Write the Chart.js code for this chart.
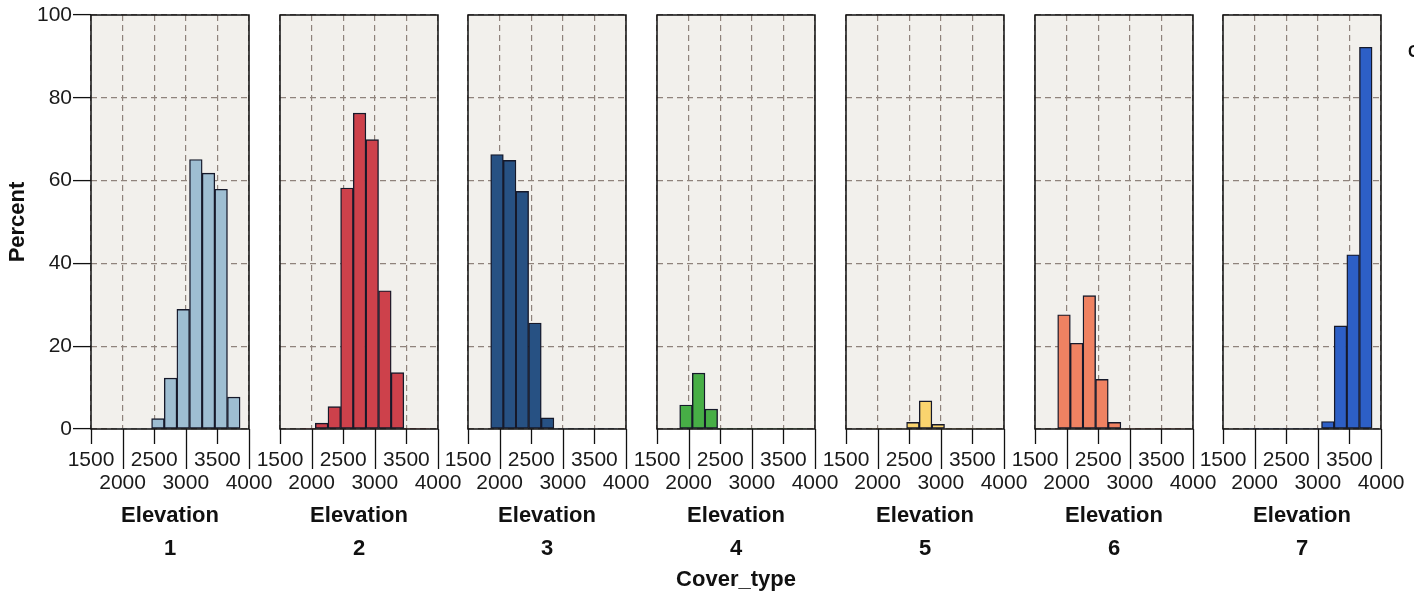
<!DOCTYPE html>
<html>
<head>
<meta charset="utf-8">
<script src="https://cdn.jsdelivr.net/npm/chart.js@4.4.0/dist/chart.umd.min.js"></script>
<style>
html, body { margin: 0; padding: 0; background: #fff; width: 1424px; height: 601px; overflow: hidden; }
.panel { position: absolute; top: 0; height: 601px; }
#coverTitle { position: absolute; left: 536px; width: 400px; top: 566px; line-height: 26px; text-align: center;
  font: bold 22px Arial, "Liberation Sans", sans-serif; color: #111; }
#legendCut { position: absolute; left: 1408px; top: 43px; width: 6px; overflow: hidden; line-height: 20px; white-space: nowrap;
  font: bold 16px Arial, "Liberation Sans", sans-serif; color: #111; }
</style>
</head>
<body>
<div id="panels"></div>
<div id="coverTitle">Cover_type</div>
<div id="legendCut">Cover_type</div>
<script>
// elevation bins (width 200, starting at 1859) -> bar centres
const binCenters = [1959, 2159, 2359, 2559, 2759, 2959, 3159, 3359, 3559, 3759];
const xTickValues = [1500, 2000, 2500, 3000, 3500, 4000];
const yTickValues = [0, 20, 40, 60, 80, 100];
const coverTypes = ['1', '2', '3', '4', '5', '6', '7'];

// percent per bin, one array per cover type
const type1 = [0, 0, 0, 2.5, 12.3, 28.9, 65.1, 61.8, 57.9, 7.7];
const type2 = [0, 1.4, 5.4, 58.2, 76.3, 69.9, 33.4, 13.6, 0, 0];
const type3 = [66.3, 64.9, 57.4, 25.6, 2.7, 0, 0, 0, 0, 0];
const type4 = [5.8, 13.5, 4.8, 0, 0, 0, 0, 0, 0, 0];
const type5 = [0, 0, 0, 1.6, 6.8, 1.1, 0, 0, 0, 0];
const type6 = [27.6, 20.7, 32.2, 12.0, 1.6, 0, 0, 0, 0, 0];
const type7 = [0, 0, 0, 0, 0, 0, 1.8, 24.9, 42.1, 92.2];
const seriesByType = [type1, type2, type3, type4, type5, type6, type7];

const barColors = ['#9ebed2', '#cd414b', '#275183', '#47ae46', '#fad46e', '#ef8262', '#2d5fc6'];

const FONT = 'Arial, "Liberation Sans", sans-serif';
Chart.defaults.font.family = FONT;

// layout of the small multiples
const PLOT_W = 158;
const FIRST_LEFT = 91;
const STEP = 188.7;
const PAD = 50;
const Y_AXIS_W = 91;
const GRID = '#8f837c';

const panelFrame = {
  id: 'panelFrame',
  beforeDraw(chart) {
    const { ctx, chartArea: a } = chart;
    ctx.save();
    ctx.fillStyle = '#f2f0ec';
    ctx.fillRect(a.left, a.top, a.width, a.height);
    ctx.restore();
  },
  afterDraw(chart) {
    const { ctx, chartArea: a, scales: { x } } = chart;
    ctx.save();
    ctx.strokeStyle = '#111';
    ctx.lineWidth = 1.5;
    ctx.strokeRect(a.left, a.top, a.width, a.height);
    ctx.lineWidth = 1.3;
    x.ticks.forEach(t => {
      const px = Math.round(x.getPixelForValue(t.value)) + 0.5;
      const len = ((t.value - xTickValues[0]) / 500) % 2 ? 40 : 15;
      ctx.beginPath();
      ctx.moveTo(px, a.bottom);
      ctx.lineTo(px, a.bottom + len);
      ctx.stroke();
    });
    ctx.restore();
  }
};

const holder = document.getElementById('panels');

for (let i = 0; i < coverTypes.length; i++) {
  const first = i === 0;
  const div = document.createElement('div');
  div.className = 'panel';
  const plotLeft = Math.round(FIRST_LEFT + STEP * i);
  div.style.left = (first ? 0 : plotLeft - PAD) + 'px';
  div.style.width = (first ? Y_AXIS_W + PLOT_W + PAD : PLOT_W + 2 * PAD) + 'px';
  const canvas = document.createElement('canvas');
  div.appendChild(canvas);
  holder.appendChild(div);

  const vals = seriesByType[i];

  new Chart(canvas.getContext('2d'), {
    type: 'bar',
    data: {
      datasets: [{
        data: binCenters.map((x, k) => ({ x: x, y: vals[k] })),
        backgroundColor: barColors[i],
        borderColor: '#16192a',
        borderWidth: c => (c.raw && c.raw.y > 0 ? 1.4 : 0),
        borderSkipped: false,
        barPercentage: 1,
        categoryPercentage: 1
      }]
    },
    options: {
      responsive: true,
      maintainAspectRatio: false,
      animation: false,
      events: [],
      layout: { padding: { left: first ? 0 : PAD, right: PAD, top: 15, bottom: 0 } },
      plugins: { legend: { display: false }, tooltip: { enabled: false } },
      scales: {
        x: {
          type: 'linear',
          min: 1500,
          max: 4000,
          offset: false,
          afterBuildTicks: s => { s.ticks = xTickValues.map(v => ({ value: v })); },
          afterFit: s => { s.height = 172; },
          grid: { offset: false, color: GRID, lineWidth: 1.2, drawTicks: false },
          border: { display: false, dash: [6, 4] },
          ticks: {
            autoSkip: false,
            maxRotation: 0,
            padding: 20,
            color: '#1a1a1a',
            font: { size: 21, lineHeight: 1.1 },
            callback: v => (((v - xTickValues[0]) / 500) % 2 ? ['', String(v)] : [String(v), ''])
          },
          title: {
            display: true,
            text: ['Elevation', coverTypes[i]],
            color: '#111',
            font: { size: 22, weight: 'bold', lineHeight: 1.5 },
            padding: { top: 0, bottom: 36 }
          }
        },
        y: {
          min: 0,
          max: 100,
          afterBuildTicks: s => { s.ticks = yTickValues.map(v => ({ value: v })); },
          afterFit: s => { s.width = first ? Y_AXIS_W : 0; },
          grid: { color: GRID, lineWidth: 1.2, drawTicks: first, tickLength: 18, tickColor: '#111', tickWidth: 1.3 },
          border: { display: false, dash: [6, 4] },
          ticks: { display: first, padding: 1, color: '#1a1a1a', font: { size: 21 } },
          title: {
            display: first,
            text: 'Percent',
            color: '#111',
            font: { size: 22, weight: 'bold' },
            padding: { top: 5, bottom: 0 }
          }
        }
      }
    },
    plugins: [panelFrame]
  });
}
</script>
</body>
</html>
